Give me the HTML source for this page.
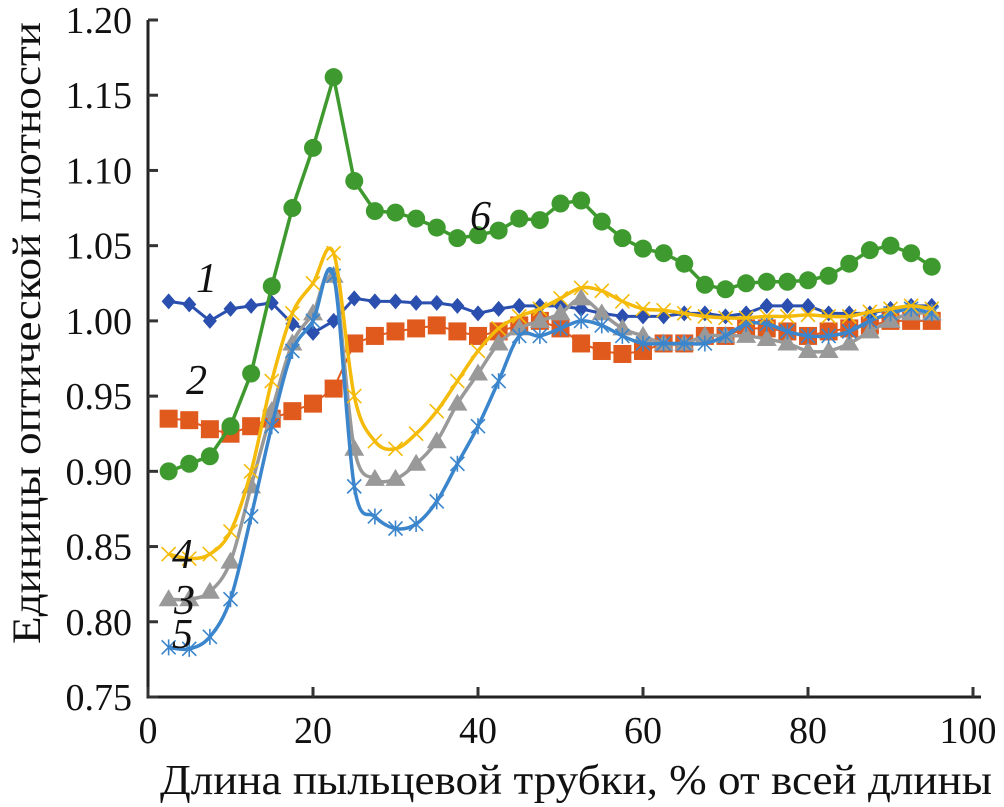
<!DOCTYPE html>
<html><head><meta charset="utf-8"><style>
html,body{margin:0;padding:0;background:#fff;width:1004px;height:807px;overflow:hidden}
</style></head><body>
<svg id="chart" width="1004" height="807" viewBox="0 0 1004 807" font-family="'Liberation Serif', 'DejaVu Serif', serif"></svg>
<script>
const xs=[2.5,5,7.5,10,12.5,15,17.5,20,22.5,25,27.5,30,32.5,35,37.5,40,42.5,45,47.5,50,52.5,55,57.5,60,62.5,65,67.5,70,72.5,75,77.5,80,82.5,85,87.5,90,92.5,95];
const s1=[1.013,1.011,1.000,1.008,1.010,1.012,0.998,0.992,1.000,1.015,1.013,1.013,1.012,1.012,1.010,1.005,1.008,1.010,1.010,1.010,1.008,1.005,1.003,1.003,1.003,1.005,1.005,1.003,1.005,1.010,1.010,1.010,1.005,1.005,1.005,1.008,1.010,1.010];
const s2=[0.935,0.934,0.928,0.925,0.930,0.935,0.940,0.945,0.955,0.985,0.990,0.993,0.995,0.997,0.993,0.990,0.993,0.997,1.000,0.995,0.985,0.980,0.978,0.980,0.985,0.985,0.990,0.990,0.995,0.995,0.993,0.990,0.993,0.995,0.997,1.000,1.000,1.000];
const s3=[0.815,0.815,0.820,0.840,0.890,0.940,0.985,1.005,1.030,0.915,0.895,0.895,0.905,0.920,0.945,0.965,0.985,0.995,1.000,1.005,1.015,1.005,0.995,0.990,0.985,0.985,0.990,0.990,0.990,0.988,0.985,0.980,0.980,0.985,0.993,1.000,1.005,1.005];
const s4=[0.845,0.842,0.845,0.860,0.900,0.960,1.005,1.025,1.045,0.950,0.920,0.915,0.925,0.940,0.960,0.980,0.995,1.003,1.008,1.015,1.022,1.020,1.013,1.008,1.007,1.005,1.003,1.002,1.002,1.003,1.003,1.004,1.003,1.003,1.006,1.008,1.010,1.008];
const s5=[0.783,0.782,0.790,0.815,0.870,0.930,0.980,1.000,1.030,0.890,0.870,0.862,0.865,0.880,0.905,0.930,0.960,0.990,0.990,0.995,1.000,0.997,0.990,0.985,0.985,0.985,0.985,0.990,0.998,0.998,0.993,0.990,0.990,0.993,1.000,1.005,1.008,1.005];
const s6=[0.900,0.905,0.910,0.930,0.965,1.023,1.075,1.115,1.162,1.093,1.073,1.072,1.068,1.062,1.055,1.057,1.060,1.068,1.067,1.078,1.080,1.066,1.055,1.048,1.045,1.038,1.024,1.021,1.025,1.026,1.026,1.027,1.030,1.038,1.047,1.050,1.045,1.036];
const xTicks=[0,20,40,60,80,100];
const yTicks=[0.75,0.80,0.85,0.90,0.95,1.00,1.05,1.10,1.15,1.20];

const svg=document.getElementById('chart');
const NS='http://www.w3.org/2000/svg';
const FF="'Liberation Serif', 'DejaVu Serif', serif";
const X0=148,X1=973,Y0=697,Y1=20;
const sx=v=>X0+(v/100)*(X1-X0);
const sy=v=>Y0-(v-0.75)/(0.45)*(Y0-Y1);
function el(tag,attrs,parent){const e=document.createElementNS(NS,tag);for(const k in attrs)e.setAttribute(k,attrs[k]);(parent||svg).appendChild(e);return e;}

const ax=el('path',{d:`M${X0},${Y1} V${Y0} H${X1+8}`,stroke:'#222','stroke-width':3,fill:'none'});


yTicks.forEach(t=>{
  const y=sy(t);
  const tk=el('line',{x1:X0,x2:X0+10,y1:y,y2:y,stroke:'#333','stroke-width':3});
  
  
  const tx=el('text',{x:X0-16,y:y+13,'text-anchor':'end','font-size':38,'font-family':FF,fill:'#111'});
  tx.textContent=t.toFixed(2);
  
  
});
xTicks.forEach(t=>{
  const x=sx(t);
  const tk=el('line',{x1:x,x2:x,y1:Y0,y2:Y0-10,stroke:'#333','stroke-width':3});
  
  
  const tx=el('text',{x:t===100?x-5:x,y:Y0+46,'text-anchor':'middle','font-size':38,'font-family':FF,fill:'#111'});
  tx.textContent=t;
  
  
});
const xt=el('text',{x:160,y:794,'font-size':42,'font-family':FF,fill:'#111',textLength:832,lengthAdjust:'spacingAndGlyphs'});
xt.textContent='Длина пыльцевой трубки, % от всей длины';


const yt=el('text',{x:0,y:0,'font-size':40,'font-family':FF,fill:'#111',transform:'translate(40,644) rotate(-90)',textLength:622,lengthAdjust:'spacingAndGlyphs'});
yt.textContent='Единицы оптической плотности';



function smoothPath(pts){
  let d=`M${pts[0][0]},${pts[0][1]}`;
  for(let i=0;i<pts.length-1;i++){
    const p0=pts[i-1]||pts[i],p1=pts[i],p2=pts[i+1],p3=pts[i+2]||p2;
    const c1=[p1[0]+(p2[0]-p0[0])/6,p1[1]+(p2[1]-p0[1])/6];
    const c2=[p2[0]-(p3[0]-p1[0])/6,p2[1]-(p3[1]-p1[1])/6];
    d+=` C${c1[0]},${c1[1]} ${c2[0]},${c2[1]} ${p2[0]},${p2[1]}`;
  }
  return d;
}
function marker(g,type,x,y,c){
  if(type==='circle')return el('circle',{cx:x,cy:y,r:9,fill:c},g);
  if(type==='square')return el('rect',{x:x-9,y:y-9,width:18,height:18,fill:c},g);
  if(type==='diamond')return el('path',{d:`M${x},${y-8} L${x+7},${y} L${x},${y+8} L${x-7},${y}Z`,fill:c},g);
  if(type==='tri')return el('path',{d:`M${x},${y-10} L${x+10},${y+7} L${x-10},${y+7}Z`,fill:c},g);
  if(type==='x')return el('path',{d:`M${x-7},${y-7} L${x+7},${y+7} M${x+7},${y-7} L${x-7},${y+7}`,stroke:c,'stroke-width':1.6,fill:'none'},g);
  if(type==='star')return el('path',{d:`M${x-7},${y-7} L${x+7},${y+7} M${x+7},${y-7} L${x-7},${y+7} M${x},${y-8} V${y+8}`,stroke:c,'stroke-width':1.6,fill:'none'},g);
}
const series=[
  {name:'series-2',data:s2,color:'#e05a1e',m:'square',smooth:false,w:2},
  {name:'series-1',data:s1,color:'#2a4fae',m:'diamond',smooth:false,w:3},
  {name:'series-3',data:s3,color:'#999',m:'tri',smooth:true,w:3.5},
  {name:'series-5',data:s5,color:'#3a85cc',m:'star',smooth:true,w:3.5},
  {name:'series-4',data:s4,color:'#f5bb0a',m:'x',smooth:true,w:3.5},
  {name:'series-6',data:s6,color:'#3e9a2e',m:'circle',smooth:false,w:3.5}
];
series.forEach(s=>{
  const g=el('g',{});
  
  
  const pts=xs.map((x,i)=>[sx(x),sy(s.data[i])]);
  const d=s.smooth?smoothPath(pts):'M'+pts.map(p=>p.join(',')).join(' L');
  const line=el('path',{d:d,stroke:s.color,'stroke-width':s.w,fill:'none'},g);
  
  
  pts.forEach(p=>{
    const mk=marker(g,s.m,p[0],p[1],s.color);
    
    
  });
});
const labels=[['1',196,292],['2',186,394],['3',174,614],['4',172,568],['5',172,648],['6',470,230]];
labels.forEach(l=>{
  const t=el('text',{x:l[1],y:l[2],'font-size':42,'font-style':'italic','font-family':FF,fill:'#111'});
  t.textContent=l[0];
  
  
});
</script>
</body></html>
